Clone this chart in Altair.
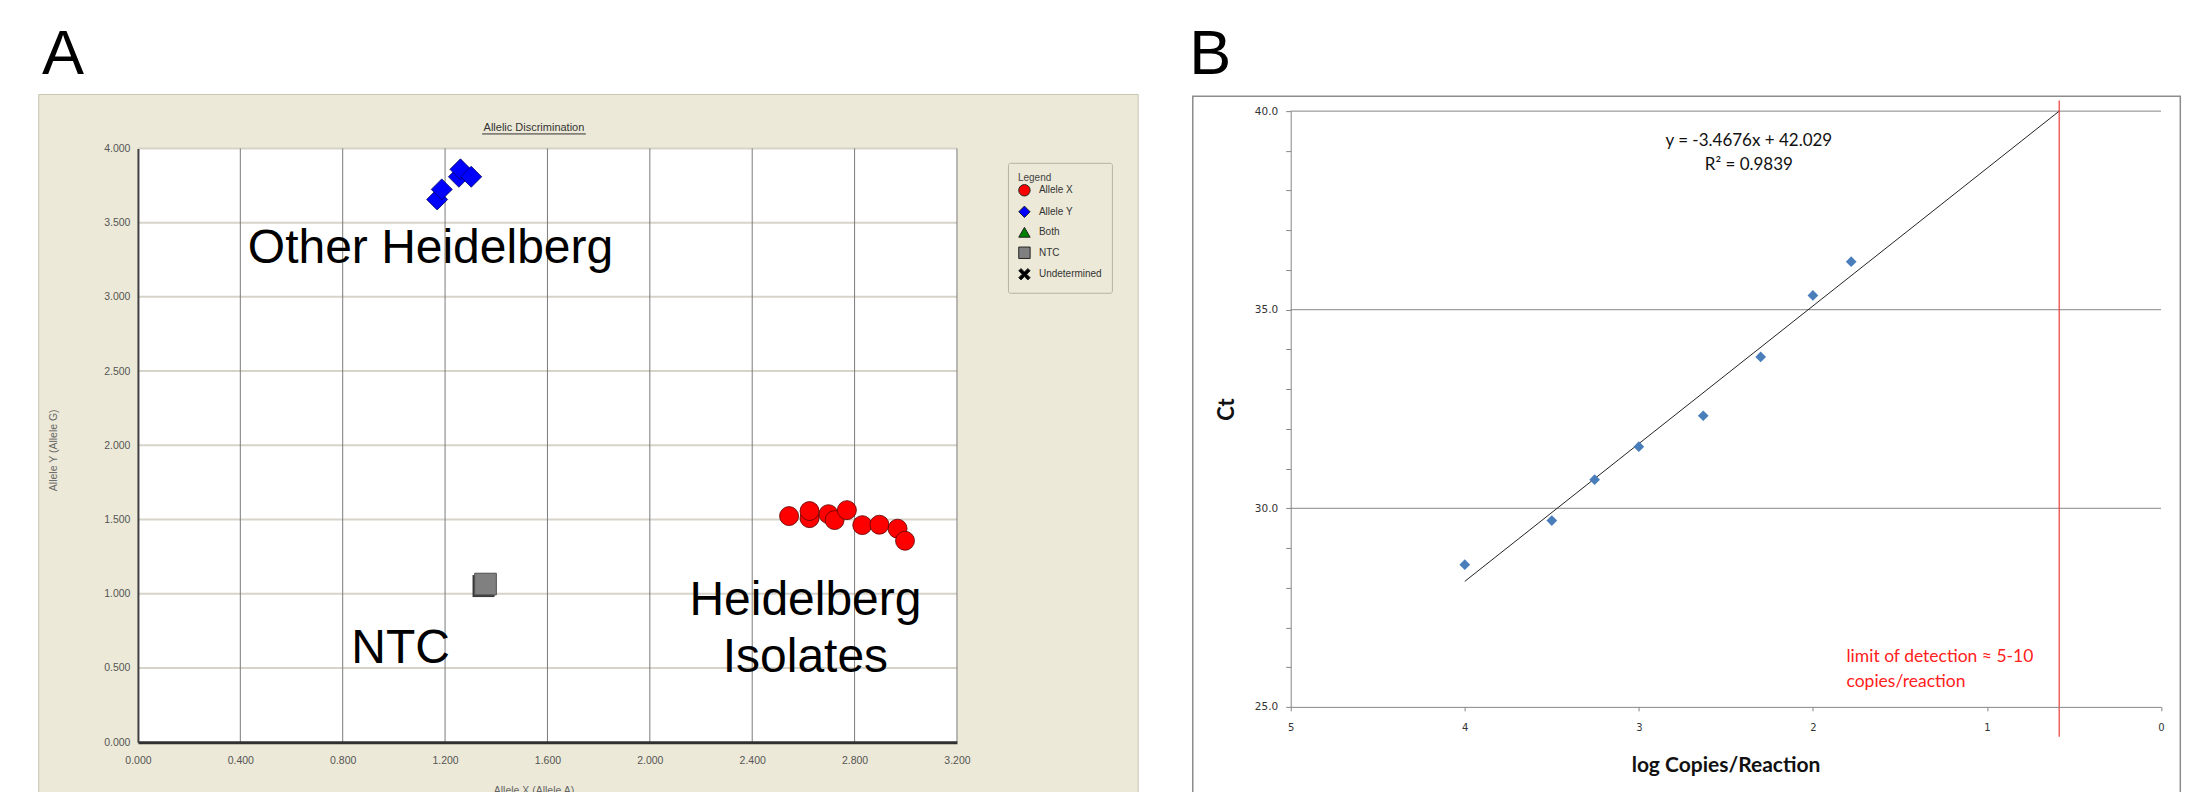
import altair as alt
import pandas as pd

# ---------------- Panel A : Allelic Discrimination ----------------
CALLS = ["Allele X", "Allele Y", "Both", "NTC", "Undetermined"]
CALL_COLORS = ["#ff0000", "#0000ff", "#008000", "#808080", "#000000"]
X_SHAPE = "M-1,-0.6L-0.6,-1L0,-0.4L0.6,-1L1,-0.6L0.4,0L1,0.6L0.6,1L0,0.4L-0.6,1L-1,0.6L-0.4,0Z"
CALL_SHAPES = ["circle", "diamond", "triangle-up", "square", X_SHAPE]

ALLELE_X_X = [2.544, 2.624, 2.624, 2.698, 2.722, 2.770, 2.830, 2.897, 2.968, 2.997]
ALLELE_X_Y = [1.523, 1.509, 1.557, 1.536, 1.496, 1.563, 1.462, 1.465, 1.438, 1.357]
ALLELE_Y_X = [1.169, 1.187, 1.254, 1.260, 1.302]
ALLELE_Y_Y = [3.656, 3.724, 3.809, 3.859, 3.809]
NTC_X = [1.358]
NTC_Y = [1.065]

A_XTICKS = [0.0, 0.4, 0.8, 1.2, 1.6, 2.0, 2.4, 2.8, 3.2]
A_YTICKS = [0.0, 0.5, 1.0, 1.5, 2.0, 2.5, 3.0, 3.5, 4.0]

A_LABELS = ["Other Heidelberg", "NTC", "Heidelberg", "Isolates"]
A_LABEL_X = [1.143, 1.026, 2.608, 2.608]
A_LABEL_Y = [3.228, 0.532, 0.856, 0.472]

# ---------------- Panel B : standard curve ----------------
B_X = [4.0, 3.5, 3.254, 3.0, 2.63, 2.30, 2.0, 1.78]
B_Y = [28.58, 29.69, 30.72, 31.55, 32.33, 33.81, 35.36, 36.21]
FIT_X = [4.0, 0.585]
FIT_Y = [28.16, 40.0]
LOD_X = [0.585]
B_XTICKS = [0, 1, 2, 3, 4, 5]
B_YTICKS = list(range(25, 41))
B_GRID = [30, 35, 40]
EQ_LINES = ["y = -3.4676x + 42.029", "R² = 0.9839"]
EQ_X = [2.368, 2.368]
EQ_Y = [39.12, 38.53]
LOD_LINES = ["limit of detection ≈ 5-10", "copies/reaction"]
LOD_TX = [1.807, 1.807]
LOD_TY = [26.12, 25.51]

# ---------------- tables ----------------
pts_a = pd.concat([
    pd.DataFrame({"x": ALLELE_X_X, "y": ALLELE_X_Y, "call": "Allele X"}),
    pd.DataFrame({"x": ALLELE_Y_X, "y": ALLELE_Y_Y, "call": "Allele Y"}),
    pd.DataFrame({"x": NTC_X, "y": NTC_Y, "call": "NTC"}),
], ignore_index=True)
frame_a = pd.DataFrame({"x0": [A_XTICKS[0]], "x1": [A_XTICKS[-1]],
                        "y0": [A_YTICKS[0]], "y1": [A_YTICKS[-1]]})
vgrid_a = pd.DataFrame({"x": A_XTICKS[1:], "y0": A_YTICKS[0], "y1": A_YTICKS[-1]})
hgrid_a = pd.DataFrame({"y": A_YTICKS[1:], "x0": A_XTICKS[0], "x1": A_XTICKS[-1]})
lab_a = pd.DataFrame({"x": A_LABEL_X, "y": A_LABEL_Y, "t": A_LABELS})
one = pd.DataFrame({"k": [0]})

pts_b = pd.DataFrame({"x": B_X, "y": B_Y})
fit_b = pd.DataFrame({"x": FIT_X, "y": FIT_Y})
lod_b = pd.DataFrame({"x": LOD_X})
grid_b = pd.DataFrame({"y": B_GRID})
eq_b = pd.DataFrame({"x": EQ_X, "y": EQ_Y, "t": EQ_LINES})
lodt_b = pd.DataFrame({"x": LOD_TX, "y": LOD_TY, "t": LOD_LINES})

# ---------------- layout constants (pixels, relative to plot origins) ----------------
WA, HA = 819.4, 631.3
A_TOP = 37.3
WB, HB = 870.7, 596
SPACING = 333.3
BEIGE = "#ECE9D8"

xA = alt.Scale(domain=[0, 3.2], nice=False, zero=False)
yA = alt.Scale(domain=[0, 4], range=[HA, A_TOP], nice=False, zero=False)
axXA = alt.Axis(values=A_XTICKS, format=".3f", labelFont="Liberation Sans", labelFontSize=10.5,
                labelColor="#555555", tickSize=0, labelPadding=13, labelFlush=False,
                domainColor="#303030", domainWidth=3, grid=False, zindex=1,
                title="Allele X (Allele A)", titleFont="Liberation Sans", titleFontSize=10.5,
                titleFontWeight="normal", titleColor="#666666", titleX=395.7, titleY=43,
                titleBaseline="top", titleAlign="center")
axYA = alt.Axis(values=A_YTICKS, format=".3f", labelFont="Liberation Sans", labelFontSize=10.5,
                labelColor="#555555", tickSize=0, labelPadding=8, labelFlush=False,
                labelOverlap=False, domainColor="#404040", domainWidth=2, grid=False, zindex=1,
                title="Allele Y (Allele G)", titleFont="Liberation Sans", titleFontSize=10.5,
                titleFontWeight="normal", titleColor="#666666", titleX=-84, titleY=338.8,
                titleAngle=270, titleAlign="center", titleBaseline="middle")


def XA(f):
    return alt.X(f, type="quantitative", scale=xA, axis=axXA)


def YA(f):
    return alt.Y(f, type="quantitative", scale=yA, axis=axYA)


legend_a = alt.Legend(title="Legend", orient="none", legendX=870.4, legendY=51.7,
                      fillColor=BEIGE, strokeColor="#b5b2a2", padding=10, cornerRadius=2,
                      titleFont="Liberation Sans", titleFontSize=10, titleFontWeight="normal",
                      titleColor="#444444", titlePadding=1, labelFont="Liberation Sans",
                      labelFontSize=10, labelColor="#333333", symbolSize=130, rowPadding=4.5,
                      labelOffset=8, symbolStrokeColor="#222222", symbolStrokeWidth=1)
color_a = alt.Color("call:N", scale=alt.Scale(domain=CALLS, range=CALL_COLORS), legend=legend_a)
shape_a = alt.Shape("call:N", scale=alt.Scale(domain=CALLS, range=CALL_SHAPES), legend=legend_a)

canvas = alt.Chart(one).mark_rect(fill="white").encode(
    x=alt.value(-129.3), x2=alt.value(2065.7), y=alt.value(-102.7), y2=alt.value(689.3))
beige = alt.Chart(one).mark_rect(fill=BEIGE, stroke="#c9c5b3", strokeWidth=1).encode(
    x=alt.value(-99.3), x2=alt.value(1000.7), y=alt.value(-16.7), y2=alt.value(689.3))
plot_bg = alt.Chart(frame_a).mark_rect(fill="white").encode(
    x=XA("x0"), x2="x1", y=YA("y0"), y2="y1")
hgrid = alt.Chart(hgrid_a).mark_rule(color="#d6d3c9", strokeWidth=2).encode(
    y=YA("y"), x=XA("x0"), x2="x1")
vgrid = alt.Chart(vgrid_a).mark_rule(color="#7a7a7a", strokeWidth=1).encode(
    x=XA("x"), y=YA("y0"), y2="y1")
ntc_shadow = alt.Chart(pts_a[pts_a.call == "NTC"]).mark_point(
    shape="square", filled=True, size=484, color="#3c3c3c", opacity=1,
    xOffset=-2, yOffset=2).encode(x=XA("x"), y=YA("y"))
pts_x = alt.Chart(pts_a[pts_a.call == "Allele X"]).mark_point(
    filled=True, size=360, opacity=1, stroke="#5a0000", strokeWidth=0.8).encode(
    x=XA("x"), y=YA("y"), color=color_a, shape=shape_a)
pts_y = alt.Chart(pts_a[pts_a.call == "Allele Y"]).mark_point(
    filled=True, size=440, opacity=1, stroke="#000060", strokeWidth=0.8).encode(
    x=XA("x"), y=YA("y"), color=color_a, shape=shape_a)
pts_n = alt.Chart(pts_a[pts_a.call == "NTC"]).mark_point(
    filled=True, size=470, opacity=1, stroke="#505050", strokeWidth=1).encode(
    x=XA("x"), y=YA("y"), color=color_a, shape=shape_a)
labels_a = alt.Chart(lab_a).mark_text(font="Liberation Sans", fontSize=48, color="black",
                                      align="center", baseline="alphabetic").encode(
    x=XA("x"), y=YA("y"), text="t:N")
title_a = alt.Chart(one).mark_text(text="Allelic Discrimination", font="Liberation Sans",
                                   fontSize=11, color="#333333", align="center",
                                   baseline="alphabetic").encode(
    x=alt.value(396.2), y=alt.value(20.3))
title_ul = alt.Chart(one).mark_rule(color="#333333", strokeWidth=1).encode(
    x=alt.value(344.3), x2=alt.value(448.1), y=alt.value(22.8))
letter_a = alt.Chart(one).mark_text(text="A", font="Liberation Sans", fontSize=63,
                                    color="black", align="left", baseline="alphabetic").encode(
    x=alt.value(-95.9), y=alt.value(-37.5))

panel_a = alt.layer(canvas, beige, plot_bg, hgrid, vgrid, ntc_shadow, pts_x, pts_y, pts_n,
                    labels_a, title_a, title_ul, letter_a).properties(width=WA, height=HA)

# ---------------- Panel B ----------------
xB = alt.Scale(domain=[5, 0], nice=False, zero=False)
yB = alt.Scale(domain=[25, 40], nice=False, zero=False)
axXB = alt.Axis(values=B_XTICKS, format="d", labelFont="DejaVu Sans", labelFontSize=10,
                labelColor="#333333", tickSize=4, tickColor="#868686", domainColor="#868686",
                domainWidth=1, labelPadding=12, labelFlush=False, grid=False, zindex=1,
                title="log Copies/Reaction", titleFont="Lato", titleFontSize=21,
                titleFontWeight="bold", titleColor="#111111", titleX=435, titleY=64.3,
                titleBaseline="alphabetic", titleAlign="center")
axYB = alt.Axis(values=B_YTICKS,
                labelExpr="datum.value % 5 === 0 ? format(datum.value, '.1f') : ''",
                labelFont="DejaVu Sans", labelFontSize=10.5, labelColor="#333333", tickSize=5,
                tickColor="#868686", domainColor="#868686", domainWidth=1, labelPadding=8,
                labelFlush=False, labelOverlap=False, grid=False, zindex=1,
                title="Ct", titleFont="Lato", titleFontSize=22, titleFontWeight="bold",
                titleColor="#111111", titleAngle=270, titleX=-64, titleY=298,
                titleAlign="center", titleBaseline="middle")


def XB(f):
    return alt.X(f, type="quantitative", scale=xB, axis=axXB)


def YB(f):
    return alt.Y(f, type="quantitative", scale=yB, axis=axYB)


frame_b = alt.Chart(one).mark_rect(fill="white", stroke="#8c8c8c", strokeWidth=1.5).encode(
    x=alt.value(-98), x2=alt.value(890), y=alt.value(-15), y2=alt.value(689.3))
grid_lines_b = alt.Chart(grid_b).mark_rule(color="#868686", strokeWidth=1).encode(y=YB("y"))
fit_line = alt.Chart(fit_b).mark_line(color="#222222", strokeWidth=1).encode(
    x=XB("x"), y=YB("y"))
pts_b_layer = alt.Chart(pts_b).mark_point(shape="diamond", filled=True, size=115,
                                          color="#4a7ebb", opacity=1).encode(
    x=XB("x"), y=YB("y"))
lod_rule = alt.Chart(lod_b).mark_rule(color="#ee3b3b", strokeWidth=1.2).encode(
    x=XB("x"), y=alt.value(-10.7), y2=alt.value(626))
eq_text = alt.Chart(eq_b).mark_text(font="Lato", fontSize=17, color="#111111",
                                    align="center", baseline="alphabetic").encode(
    x=XB("x"), y=YB("y"), text="t:N")
lod_text = alt.Chart(lodt_b).mark_text(font="Lato", fontSize=17.5, color="#ff2020",
                                       align="left", baseline="alphabetic").encode(
    x=XB("x"), y=YB("y"), text="t:N")
letter_b = alt.Chart(one).mark_text(text="B", font="Liberation Sans", fontSize=63,
                                    color="black", align="left", baseline="alphabetic").encode(
    x=alt.value(-101.6), y=alt.value(-37.5))

panel_b = alt.layer(frame_b, grid_lines_b, fit_line, pts_b_layer, lod_rule, eq_text,
                    lod_text, letter_b).properties(width=WB, height=HB)

chart = alt.hconcat(panel_a, panel_b, spacing=SPACING, bounds="flush").resolve_scale(
    color="independent", shape="independent").resolve_legend(
    color="independent", shape="independent").properties(
    padding=0, background="white").configure_view(stroke=None)

chart.save("out.html", embed_options={"renderer": "svg", "actions": False})
